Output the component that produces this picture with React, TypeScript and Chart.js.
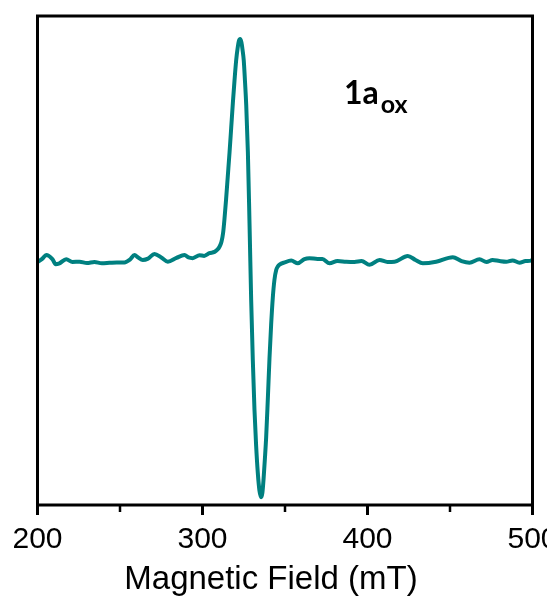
import React, { useEffect, useRef } from "react";
import { Chart, registerables } from "chart.js";

Chart.register(...registerables);

// Magnetic field (mT)
const fieldValues = [
  200.2, 203, 205.3, 209, 211, 213.3, 217.4, 221.2, 225.5, 230, 234.5, 239, 243.6, 248, 252.7, 256, 258.8, 261,
  263.8, 267, 270.9, 275, 279, 284.2, 289.1, 291.5, 294.1, 298.2, 301, 304.2, 307.3, 309, 310.3, 311.5, 312.5,
  313.3, 314.3, 315.3, 316.4, 317.4, 318.4, 319.4, 320.4, 321.3, 322, 322.8, 323.6, 324.3, 325, 325.8, 326.5,
  327.5, 328.5, 329.5, 330.5, 331.5, 332.5, 333.5, 334.5, 335.5, 336.3, 337, 337.8, 338.6, 339.6, 340.6, 341.6,
  342.6, 343.6, 344.7, 345.7, 346.7, 349.7, 353.8, 357.8, 361.8, 364.8, 369.7, 372.7, 377, 381.8, 387.1, 392.1,
  396.4, 401.2, 407.3, 412.1, 416.4, 424.4, 429.1, 433.5, 441.6, 451.7, 457, 461.8, 467.9, 472.1, 475.8, 480,
  484.1, 487.9, 492.1, 495.8, 499.2, 500,
];

// EPR signal (arb. units)
const signalValues = [
  0.0, 0.015, 0.031, 0.013, -0.01, -0.006, 0.012, 0.0, 0.001, -0.005, 0.0, -0.006, -0.004, -0.002, -0.002, 0.01,
  0.031, 0.02, 0.009, 0.015, 0.036, 0.02, 0.001, 0.018, 0.031, 0.02, 0.017, 0.03, 0.027, 0.039, 0.045, 0.055,
  0.068, 0.09, 0.13, 0.19, 0.28, 0.38, 0.49, 0.6, 0.71, 0.81, 0.9, 0.955, 0.985, 0.995, 0.98, 0.945, 0.9, 0.8,
  0.7, 0.49, 0.17, -0.17, -0.44, -0.66, -0.82, -0.94, -1.02, -1.05, -1.03, -0.97, -0.88, -0.78, -0.61, -0.43,
  -0.28, -0.16, -0.08, -0.035, -0.02, -0.012, -0.002, 0.006, -0.006, 0.013, 0.017, 0.013, 0.013, -0.006, 0.004,
  0.001, 0.0, 0.004, -0.013, 0.009, 0.0, 0.001, 0.027, 0.009, -0.006, 0.001, 0.021, 0.004, -0.003, 0.012, 0.0,
  0.009, 0.004, 0.001, 0.007, -0.003, 0.004, 0.006, 0.011,
];

const xMin = 200;
const xMax = 500;
const majorTicks = [200, 300, 400, 500];
const minorTicks = [250, 350, 450];
const xTitle = "Magnetic Field (mT)";
const labelMain = "1a";
const labelSub = "ox";

const lineColor = "#008080";

const framePlugin = {
  id: "frameAndExtras",
  afterDatasetsDraw(chart: any) {
    const { ctx, chartArea } = chart;
    const xs = chart.scales.x;
    ctx.save();
    ctx.strokeStyle = "#000";
    ctx.lineWidth = 3;
    ctx.strokeRect(chartArea.left, chartArea.top, chartArea.right - chartArea.left, chartArea.bottom - chartArea.top);
    ctx.lineWidth = 3;
    majorTicks.forEach((v) => {
      const px = xs.getPixelForValue(v);
      ctx.beginPath();
      ctx.moveTo(px, chartArea.bottom);
      ctx.lineTo(px, chartArea.bottom + 10);
      ctx.stroke();
    });
    ctx.lineWidth = 2.5;
    minorTicks.forEach((v) => {
      const px = xs.getPixelForValue(v);
      ctx.beginPath();
      ctx.moveTo(px, chartArea.bottom);
      ctx.lineTo(px, chartArea.bottom + 7);
      ctx.stroke();
    });
    ctx.fillStyle = "#000";
    ctx.font = "33px 'Liberation Sans', Arial, sans-serif";
    ctx.textAlign = "center";
    ctx.textBaseline = "alphabetic";
    ctx.fillText(xTitle, 271, 589);
    ctx.textAlign = "left";
    ctx.font = "bold 32px Lato, 'Open Sans', sans-serif";
    const lx = 344;
    const ly = 104;
    ctx.fillText(labelMain, lx, ly);
    const w = ctx.measureText(labelMain).width;
    ctx.font = "bold 25px Lato, 'Open Sans', sans-serif";
    ctx.fillText(labelSub, lx + w + 2, ly + 9);
    ctx.restore();
  },
};

export default function App() {
  const canvasRef = useRef<HTMLCanvasElement | null>(null);

  useEffect(() => {
    const canvas = canvasRef.current;
    if (!canvas) return;
    const points = fieldValues.map((f, i) => ({ x: f, y: signalValues[i] }));
    const chart = new Chart(canvas, {
      type: "line",
      data: {
        datasets: [
          {
            data: points,
            borderColor: lineColor,
            borderWidth: 4,
            pointRadius: 0,
            fill: false,
            cubicInterpolationMode: "monotone",
          },
        ],
      },
      options: {
        responsive: false,
        animation: false,
        events: [],
        layout: { padding: { top: 16, right: 14.5, left: 37.5, bottom: 0 } },
        plugins: { legend: { display: false }, tooltip: { enabled: false } },
        scales: {
          x: {
            type: "linear",
            min: xMin,
            max: xMax,
            grid: { display: false, drawTicks: false },
            border: { display: false },
            ticks: {
              stepSize: 100,
              padding: 17,
              color: "#000",
              font: { family: "'Liberation Sans', Arial, sans-serif", size: 30 },
              maxRotation: 0,
            },
            afterFit(s: any) {
              s.height = 93;
              s.paddingLeft = 0;
              s.paddingRight = 0;
            },
          },
          y: {
            display: false,
            min: -1.085,
            max: 1.098,
          },
        },
      },
      plugins: [framePlugin],
    });
    return () => chart.destroy();
  }, []);

  return (
    <div style={{ position: "absolute", left: 0, top: 0, width: 547, height: 598, background: "#fff" }}>
      <canvas ref={canvasRef} width={547} height={598} style={{ display: "block" }} />
    </div>
  );
}
